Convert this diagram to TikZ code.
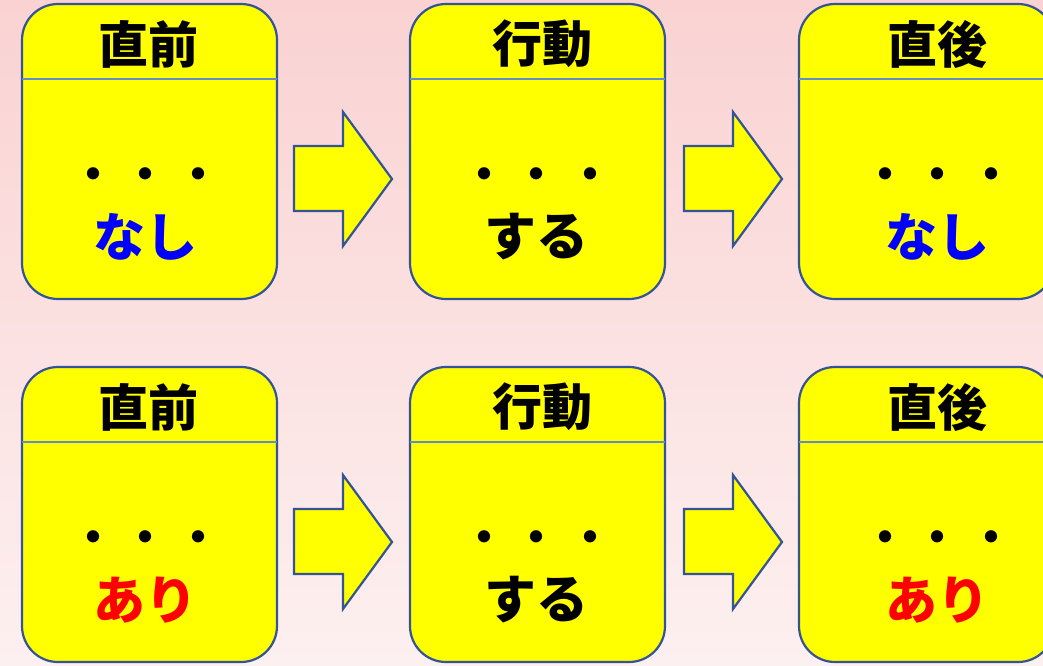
\documentclass[tikz,border=0pt]{standalone}
\usepackage{fontspec}
\newfontfamily\cjk{Noto Sans CJK JP}
\definecolor{bordblue}{RGB}{52,84,150}
\definecolor{lineblue}{RGB}{100,140,200}
\definecolor{boxyellow}{RGB}{255,255,0}
\definecolor{bgtop}{RGB}{250,210,210}
\definecolor{bgbot}{RGB}{253,240,240}
\tikzset{
  card/.style={draw=bordblue, line width=2.2pt, fill=boxyellow, rounded corners=36pt},
  divider/.style={draw=lineblue, line width=1.2pt},
  blockarrow/.style={draw=bordblue, line width=2.2pt, fill=boxyellow, line join=miter},
  title/.style={font=\cjk\bfseries\fontsize{50}{56}\selectfont, text=black, inner sep=0pt},
  dots/.style={font=\cjk\bfseries\fontsize{44}{48}\selectfont, text=black, inner sep=0pt},
  val/.style={font=\cjk\bfseries\fontsize{52}{58}\selectfont, inner sep=0pt},
}
\newcommand{\tridots}{・\hspace{9pt}・\hspace{9pt}・}
\begin{document}
\begin{tikzpicture}[x=1pt,y=-1pt]
\useasboundingbox (0,0) rectangle (1043,665);
\clip (0,0) rectangle (1043,665);
\shade[top color=bgtop, bottom color=bgbot] (0,0) rectangle (1043,665);
\foreach \row/\dy/\va/\ca in {top/0/なし/blue, bot/363/あり/red}{
  \foreach \col/\dx/\tx/\px/\vx/\ti/\vb/\cb in {a/0/148/146/145/直前/\va/\ca, b/388/542/537/536/行動/する/black, c/777/937/938/937/直後/\va/\ca}{
    \begin{scope}[shift={(0,\dy)}]
      \draw[card] (22+\dx,4) rectangle (277+\dx,299);
      \draw[divider] (22+\dx,79) -- (277+\dx,79);
      \node[title] (t-\row-\col) at (\tx,44) {\ti};
      \node[dots] (d-\row-\col) at (\px,179) {\tridots};
      \node[val, text=\cb] (v-\row-\col) at (\vx,237) {\vb};
    \end{scope}
  }
  \foreach \ax in {0,390}{
    \begin{scope}[shift={(\ax,\dy)}]
      \draw[blockarrow] (294,146) -- (343,146) -- (343,112) -- (392,179) -- (343,246) -- (343,211) -- (294,211) -- cycle;
    \end{scope}
  }
}
\end{tikzpicture}
\end{document}
